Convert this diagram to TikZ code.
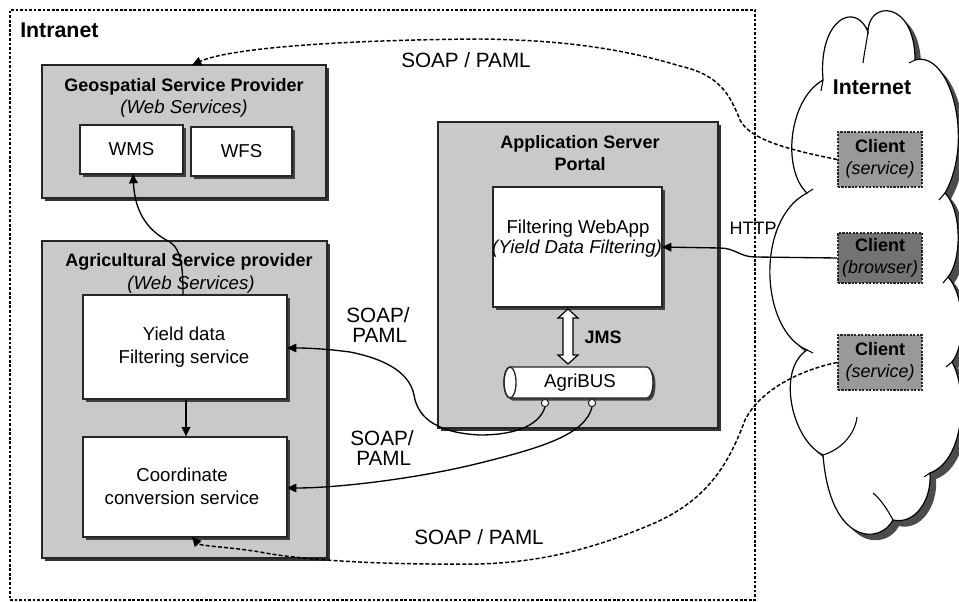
\documentclass[tikz,border=0pt]{standalone}
\usepackage{fontspec}
\setmainfont{Liberation Sans}
\usetikzlibrary{arrows.meta,fit,shadows,calc}

\tikzset{
  frame/.style={draw=black!85, line width=1pt, inner sep=0pt},
  graybox/.style={frame, fill=black!21,
    general shadow={fill=black!80, shadow xshift=2.2pt, shadow yshift=-2.2pt}},
  whitebox/.style={frame, fill=white,
    general shadow={fill=black!75, shadow xshift=2pt, shadow yshift=-2pt}},
  clientbox/.style={draw=black!85, line width=1.3pt, dash pattern=on 1.6pt off 1pt, inner sep=0pt},
  txt/.style={font=\fontsize{14}{17}\selectfont, align=center, inner sep=0pt},
  ttl/.style={font=\fontsize{13.5}{17}\selectfont\bfseries, align=center, inner sep=0pt},
  lbl/.style={font=\fontsize{15.5}{15}\selectfont, align=center, inner sep=0pt},
  flow/.style={line width=1pt, -{Triangle[length=7pt,width=6.5pt]}},
  soap/.style={flow, line width=1.1pt, dash pattern=on 3pt off 1.6pt},
  crease/.style={line width=0.8pt},
}

% outline of the Internet cloud, lump by lump
\newcommand{\cloudoutline}{%
  (823,80) .. controls (818,20) and (855,0) .. (868,32)
  .. controls (868,0) and (915,0) .. (915,60)
  .. controls (950,50) and (975,140) .. (945,193)
  .. controls (962,210) and (962,260) .. (948,277)
  .. controls (965,295) and (966,345) .. (952,362)
  .. controls (968,390) and (965,460) .. (930,473)
  .. controls (932,500) and (915,525) .. (893,520)
  .. controls (880,545) and (830,545) .. (823,455)
  .. controls (792,440) and (776,370) .. (807,350)
  .. controls (760,330) and (755,220) .. (807,193)
  .. controls (782,170) and (788,100) .. (823,80) -- cycle}

\begin{document}
\begin{tikzpicture}[x=0.75pt,y=-0.75pt]
\useasboundingbox (0,0) rectangle (959,602);

% ---------- Internet cloud ----------
\fill[black!70, shift={(6,6)}] \cloudoutline;
\draw[fill=white, line width=0.9pt] \cloudoutline;
\draw[crease] (823,80) -- (821,91);
\draw[crease] (868,32) .. controls (866,45) and (864,55) .. (863,63);
\draw[crease] (915,60) -- (909,63);
\draw[crease] (945,193) -- (939,200);
\draw[crease] (948,277) -- (943,283);
\draw[crease] (952,362) -- (946,367);
\draw[crease] (930,473) -- (924,477);
\draw[crease] (893,520) .. controls (885,505) and (878,497) .. (873,493);
\draw[crease] (823,455) .. controls (840,450) and (855,435) .. (857,417);
\draw[crease] (807,350) -- (813,353);
\draw[crease] (807,193) -- (813,189);
\node[ttl, font=\fontsize{16}{18}\selectfont\bfseries] (internet) at (872,87) {Internet};

% ---------- Intranet frame ----------
\node[draw, line width=0.8pt, dash pattern=on 2pt off 1.4pt, inner sep=0pt,
      fit={(10,10)(755,600)}] (intranet) {};
\node[ttl, font=\fontsize{16}{18}\selectfont\bfseries, anchor=west] (intranetlbl) at (20,30) {Intranet};

% ---------- Geospatial service provider ----------
\node[graybox, fit={(42,65)(326,198)}] (geo) {};
\node[ttl] (geotitle) at (184,87) {Geospatial Service Provider};
\node[txt, font=\fontsize{14}{17}\selectfont\itshape] (geosub) at (184,109) {(Web Services)};
\node[whitebox, fit={(80,125)(183,174)}] (wms) {};
\node[txt] (wmslbl) at (wms.center) {WMS};
\node[whitebox, fit={(191,127)(292,176)}] (wfs) {};
\node[txt] (wfslbl) at (wfs.center) {WFS};

% ---------- Agricultural service provider ----------
\node[graybox, fit={(42,241)(327,558)}] (agri) {};
\node[ttl] (agrititle) at (189,262) {Agricultural Service provider};
\node[txt, font=\fontsize{14}{17}\selectfont\itshape] (agrisub) at (191,285) {(Web Services)};
\node[whitebox, fit={(83,295)(287,399)}] (yield) {};
\node[txt] (yieldlbl) at (184,347) {Yield data\\Filtering service};
\node[whitebox, fit={(83,437)(287,537)}] (coord) {};
\node[txt] (coordlbl) at (182,486) {Coordinate\\conversion service};

% ---------- Application server ----------
\node[graybox, fit={(438,122)(718,428)}] (app) {};
\node[ttl] (apptitle) at (580,153) {Application Server\\Portal};
\node[whitebox, fit={(493,187)(662,307)}] (webapp) {};
\node[txt] (webapplbl) at (578,229) {Filtering WebApp};
\node[txt, font=\fontsize{14}{17}\selectfont\itshape] (webappsub) at (577,249) {(Yield Data Filtering)};

% AgriBUS drawn as a lying cylinder
\node[inner sep=0pt, fit={(503,367)(653,398)}] (agribus) {};
\fill[black!75, shift={(2.5,2.5)}] (510,367) -- (647,367)
  arc[start angle=-90, end angle=90, x radius=6, y radius=15.5] -- (510,398)
  arc[start angle=90, end angle=270, x radius=6, y radius=15.5] -- cycle;
\draw[frame, fill=white] (510,367) -- (647,367)
  arc[start angle=-90, end angle=90, x radius=6, y radius=15.5] -- (510,398)
  arc[start angle=90, end angle=270, x radius=6, y radius=15.5] -- cycle;
\draw[frame] (510,382.5) ellipse [x radius=6, y radius=15.5];
\node[txt] (agribuslbl) at (580,383) {AgriBUS};
\node[circle, draw=black!85, fill=white, line width=0.8pt, minimum size=5.5pt, inner sep=0pt] (port1) at (545,403) {};
\node[circle, draw=black!85, fill=white, line width=0.8pt, minimum size=5.5pt, inner sep=0pt] (port2) at (592,403) {};

% JMS link: hollow double arrow between the web app and the bus
\coordinate (jmstop) at (568,309);
\draw[line width=0.9pt, fill=white] (jmstop) -- ++(10,9) -- ++(-5,0) -- ++(0,37) -- ++(5,0)
  -- ++(-10,9) -- ++(-10,-9) -- ++(5,0) -- ++(0,-37) -- ++(-5,0) -- cycle;
\node[ttl] (jms) at (603,337) {JMS};

% ---------- Clients ----------
\node[clientbox, fill=black!40, fit={(838,132)(922,187)}] (cs1) {};
\node[ttl, font=\fontsize{13.5}{17}\selectfont] (cs1lbl) at (880,159) {\textbf{Client}\\\textit{(service)}};
\node[clientbox, fill=black!55, fit={(838,233)(922,283)}] (cb) {};
\node[ttl, font=\fontsize{13.5}{17}\selectfont] (cblbl) at (880,258) {\textbf{Client}\\\textit{(browser)}};
\node[clientbox, fill=black!40, fit={(838,335)(922,390)}] (cs2) {};
\node[ttl, font=\fontsize{13.5}{17}\selectfont] (cs2lbl) at (880,362) {\textbf{Client}\\\textit{(service)}};

% ---------- Connectors ----------
\coordinate (geotop) at (192,65);
\draw[soap] (cs1.west) .. controls (790,150) and (750,140) .. (740,120)
  .. controls (730,95) and (720,75) .. (680,66)
  .. controls (620,48) and (560,40) .. (480,39)
  .. controls (340,40) and (230,48) .. (geotop);
\node[lbl] (soaptop) at (466,60) {SOAP / PAML};

\coordinate (coordbot) at (192,537);
\draw[soap] (cs2.west) .. controls (800,370) and (760,390) .. (745,420)
  .. controls (730,460) and (710,500) .. (650,525)
  .. controls (590,550) and (540,562) .. (480,564)
  .. controls (380,565) and (300,560) .. (260,552)
  .. controls (230,547) and (200,546) .. (coordbot);
\node[lbl] (soapbot) at (479,537) {SOAP / PAML};

\coordinate (webappin) at (662,247);
\draw[flow] (cb.west) -- (755,257) .. controls (740,257) and (735,248) .. (720,248) -- (webappin);
\node[lbl, font=\fontsize{13.5}{16}\selectfont] (http) at (753,228) {HTTP};

\coordinate (yieldin) at (287,348);
\draw[flow] (port1.south) .. controls (538,428) and (510,435) .. (480,435)
  .. controls (440,433) and (418,420) .. (414,395)
  .. controls (410,375) and (390,360) .. (350,352)
  .. controls (320,348) and (300,348) .. (yieldin);
\node[lbl] (soap1) at (378,325) {SOAP/\\\,PAML};

\coordinate (coordin) at (287,488);
\draw[flow] (port2.south) .. controls (585,435) and (540,448) .. (480,463)
  .. controls (420,478) and (340,488) .. (coordin);
\node[lbl] (soap2) at (382,448) {SOAP/\\\,PAML};

\coordinate (yieldtop) at (183,295);
\coordinate (wmsbot) at (133,174);
\draw[flow] (yieldtop) .. controls (183,270) and (182,250) .. (170,242)
  .. controls (150,232) and (135,215) .. (wmsbot);

\draw[flow] (yield.south -| 186,0) -- (coord.north -| 186,0);
\end{tikzpicture}
\end{document}
